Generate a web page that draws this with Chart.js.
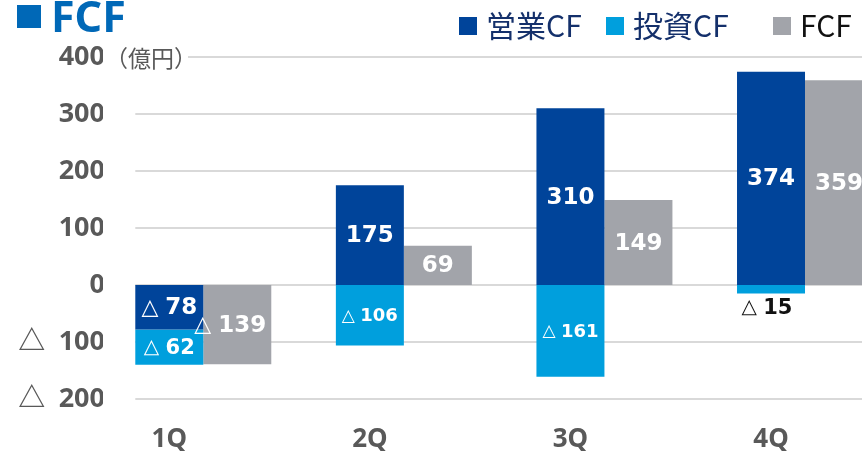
<!DOCTYPE html>
<html>
<head>
<meta charset="utf-8">
<script src="https://cdn.jsdelivr.net/npm/chart.js@4.4.1/dist/chart.umd.min.js"></script>
<style>
  html, body { margin: 0; padding: 0; background: #fff; overflow: hidden; }
  #wrap { position: relative; width: 910px; height: 451px; }
</style>
</head>
<body>
<div id="wrap"><canvas id="fcfChart" width="910" height="451"></canvas></div>
<script>
const quarters = ["1Q", "2Q", "3Q", "4Q"];
const operatingCF = [-78, 175, 310, 374];
const investingCF = [-62, -106, -161, -15];
const freeCF = [-139, 69, 149, 359];
const seriesNames = ["営業CF", "投資CF", "FCF"];

const colors = ["#00449a", "#009fdd", "#a2a4aa"];
const legendTextColors = ["#14306b", "#14306b", "#111111"];
const legendX = [459, 606, 773];
// label font size and small horizontal nudge, per dataset / quarter
const labelSizes = [[23, 23, 23, 23], [21, 18, 18, 21], [23, 23, 23, 23]];
const labelShift = [[0, 0, 0, 0], [0, 0, 0, -4], [-7, 0, 0, 0]];

const gridPlugin = {
  id: "gridLines",
  beforeDatasetsDraw(chart) {
    const { ctx, chartArea, scales } = chart;
    const first = chart.getDatasetMeta(0).data[0];
    const x0 = first.x - first.width / 2;
    ctx.save();
    ctx.strokeStyle = "#d9d9d9";
    ctx.lineWidth = 2;
    scales.y.ticks.forEach(t => {
      const y = Math.round(scales.y.getPixelForValue(t.value));
      ctx.beginPath();
      ctx.moveTo(x0, y);
      ctx.lineTo(chartArea.right, y);
      ctx.stroke();
    });
    ctx.restore();
  }
};

const labelPlugin = {
  id: "barLabels",
  afterDatasetsDraw(chart) {
    const ctx = chart.ctx;
    ctx.save();
    ctx.textBaseline = "middle";
    ctx.textAlign = "left";
    chart.data.datasets.forEach((ds, di) => {
      chart.getDatasetMeta(di).data.forEach((bar, i) => {
        const v = ds.data[i];
        const size = labelSizes[di][i];
        const inside = Math.abs(bar.base - bar.y) > size + 4;
        const num = String(Math.abs(v));
        const numFont = `bold ${size}px "DejaVu Sans"`;
        const triFont = `${Math.round(size * 0.95)}px "DejaVu Sans"`;
        const gap = v < 0 ? size * 0.3 : 0;
        ctx.font = numFont;
        const wNum = ctx.measureText(num).width;
        let wTri = 0;
        if (v < 0) {
          ctx.font = triFont;
          wTri = ctx.measureText("△").width;
        }
        const total = wTri + gap + wNum;
        const cx = bar.x + labelShift[di][i];
        const cy = inside ? (bar.y + bar.base) / 2 + 1 : Math.max(bar.y, bar.base) + size * 0.7;
        ctx.fillStyle = inside ? "#ffffff" : "#111111";
        let x = cx - total / 2;
        if (v < 0) {
          ctx.font = triFont;
          ctx.fillText("△", x, cy);
          x += wTri + gap;
        }
        ctx.font = numFont;
        ctx.fillText(num, x, cy);
      });
    });
    ctx.restore();
  }
};

const headerPlugin = {
  id: "header",
  afterDraw(chart) {
    const ctx = chart.ctx;
    const y400 = chart.scales.y.getPixelForValue(400);
    ctx.save();
    // title
    ctx.fillStyle = "#0068b7";
    ctx.fillRect(17, 5, 24, 23);
    ctx.font = 'bold 43px "Noto Sans"';
    ctx.textBaseline = "alphabetic";
    ctx.fillText("FCF", 51, 32);
    // unit
    ctx.fillStyle = "#ffffff";
    ctx.fillRect(108, y400 - 14, 80, 28);
    ctx.fillStyle = "#595959";
    ctx.font = '23px "Noto Sans CJK JP"';
    ctx.textBaseline = "middle";
    ctx.fillText("（億円）", 105, y400 + 1);
    // legend
    chart.data.datasets.forEach((ds, i) => {
      ctx.fillStyle = ds.backgroundColor;
      ctx.fillRect(legendX[i], 17, 18, 18);
      ctx.fillStyle = legendTextColors[i];
      ctx.font = '30px "Noto Sans CJK JP"';
      ctx.textBaseline = "middle";
      ctx.fillText(ds.label, legendX[i] + 27, 26);
    });
    ctx.restore();
  }
};

new Chart(document.getElementById("fcfChart"), {
  type: "bar",
  data: {
    labels: quarters,
    datasets: [
      { label: seriesNames[0], data: operatingCF, backgroundColor: colors[0], stack: "cf" },
      { label: seriesNames[1], data: investingCF, backgroundColor: colors[1], stack: "cf" },
      { label: seriesNames[2], data: freeCF, backgroundColor: colors[2], stack: "fcf" }
    ]
  },
  options: {
    responsive: false,
    animation: false,
    devicePixelRatio: 1,
    layout: { padding: { top: 57, right: 4.7, left: 0, bottom: 0 } },
    datasets: { bar: { barPercentage: 1, categoryPercentage: 0.678, borderWidth: 0 } },
    plugins: { legend: { display: false }, tooltip: { enabled: false } },
    scales: {
      x: {
        stacked: true,
        grid: { display: false, drawTicks: false },
        border: { display: false },
        ticks: {
          labelOffset: -34,
          padding: 25,
          color: "#595959",
          font: { family: '"Noto Sans"', size: 26, weight: "bold" }
        },
        afterFit: s => { s.height = 52; }
      },
      y: {
        stacked: true,
        min: -200,
        max: 400,
        grid: { display: false, drawTicks: false },
        border: { display: false },
        ticks: {
          stepSize: 100,
          padding: -2,
          color: "#595959",
          font: { family: '"Noto Sans", "Noto Sans CJK JP"', size: 27, weight: "bold" },
          callback: v => (v < 0 ? "△\u2002" + (-v) : v)
        },
        afterFit: s => { s.width = 103; }
      }
    }
  },
  plugins: [gridPlugin, labelPlugin, headerPlugin]
});
</script>
</body>
</html>
